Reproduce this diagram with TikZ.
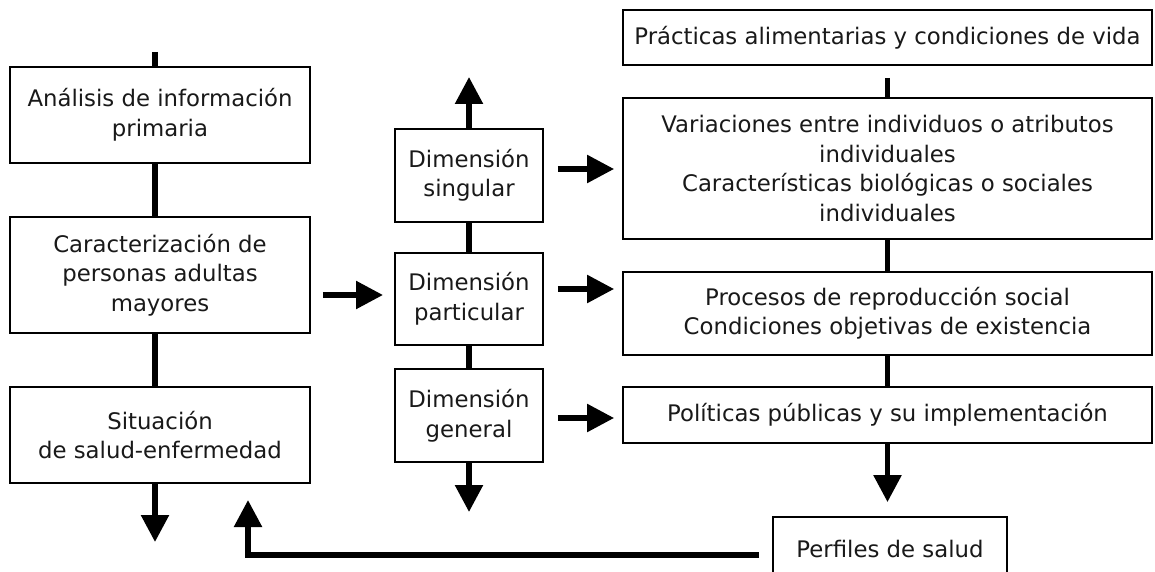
\documentclass[tikz,border=0pt]{standalone}
\usepackage{fontspec}
\setmainfont{DejaVu Sans}
\usetikzlibrary{arrows.meta}
\tikzset{
  box/.style={draw=black, line width=1.8pt, rectangle, inner sep=0pt, align=center,
    font=\fontsize{22.8}{29.5}\selectfont, text=black!90},
  conn/.style={line width=5.5pt, draw=black},
  arr/.style={conn, -{Triangle[width=27pt,length=27pt]}},
}
\begin{document}
\begin{tikzpicture}[x=1pt,y=-1pt]
\useasboundingbox (0,0) rectangle (1155,572);
\clip (0,0) rectangle (1155,572);
\fill[white] (0,0) rectangle (1155,572);
% left column
\node[box, minimum width=300pt, minimum height=96pt] (A) at (160,115) {Análisis de información\\primaria};
\node[box, minimum width=300pt, minimum height=116pt] (B) at (160,275) {Caracterización de\\personas adultas\\mayores};
\node[box, minimum width=300pt, minimum height=96pt] (C) at (160,435) {Situación\\de salud-enfermedad};
% middle column
\node[box, minimum width=148pt, minimum height=93pt] (S) at (469,175.5) {Dimensión\\singular};
\node[box, minimum width=148pt, minimum height=92pt] (P) at (469,299) {Dimensión\\particular};
\node[box, minimum width=148pt, minimum height=93pt] (G) at (469,415.5) {Dimensión\\general};
% right column
\node[box, minimum width=529pt, minimum height=55pt] (R1) at (887.5,37.5) {Prácticas alimentarias y condiciones de vida};
\node[box, minimum width=529pt, minimum height=141pt] (R2) at (887.5,168.5) {Variaciones entre individuos o atributos\\individuales\\Características biológicas o sociales\\individuales};
\node[box, minimum width=529pt, minimum height=83pt] (R3) at (887.5,313.5) {Procesos de reproducción social\\Condiciones objetivas de existencia};
\node[box, minimum width=529pt, minimum height=56pt] (R4) at (887.5,415) {Políticas públicas y su implementación};
\node[box, minimum width=234pt, minimum height=63pt] (PF) at (890,548.5) {Perfiles de salud};
% free ends
\coordinate (topin) at (155,52);
\coordinate (cout) at (155,542);
\coordinate (sup) at (469,77);
\coordinate (gdown) at (469,512);
\coordinate (fbend) at (248,555);
\coordinate (fbtip) at (248,500);
\coordinate (bp) at (383,295);
% left column connectors
\draw[conn] (topin) -- ([xshift=-5pt]A.north);
\draw[conn] ([xshift=-5pt]A.south) -- ([xshift=-5pt]B.north);
\draw[conn] ([xshift=-5pt]B.south) -- ([xshift=-5pt]C.north);
\draw[arr] ([xshift=-5pt]C.south) -- (cout);
% B to particular
\draw[arr, shorten <=12pt] (B.east |- bp) -- (bp);
% middle column
\draw[arr] (S.north) -- (sup);
\draw[conn] (S.south) -- (P.north);
\draw[conn] (P.south) -- (G.north);
\draw[arr] (G.south) -- (gdown);
% middle to right
\draw[arr, shorten <=14pt] ([yshift=6.5pt]S.east) -- ([yshift=6.5pt,xshift=-8pt]S.east -| R2.west);
\draw[arr, shorten <=14pt] ([yshift=10pt]P.east) -- ([yshift=10pt,xshift=-8pt]P.east -| R3.west);
\draw[arr, shorten <=14pt] ([yshift=-2.5pt]G.east) -- ([yshift=-2.5pt,xshift=-8pt]G.east -| R4.west);
% right column
\draw[conn] (R1.south) ++(0,12) -- (R2.north);
\draw[conn] (R2.south) -- (R3.north);
\draw[conn] (R3.south) -- (R4.north);
\draw[arr, shorten >=14pt] (R4.south) -- (R4.south |- PF.north);
% feedback
\draw[arr, line join=miter, shorten <=13pt] (PF.west |- fbend) -- (fbend) -- (fbtip);
\end{tikzpicture}
\end{document}
